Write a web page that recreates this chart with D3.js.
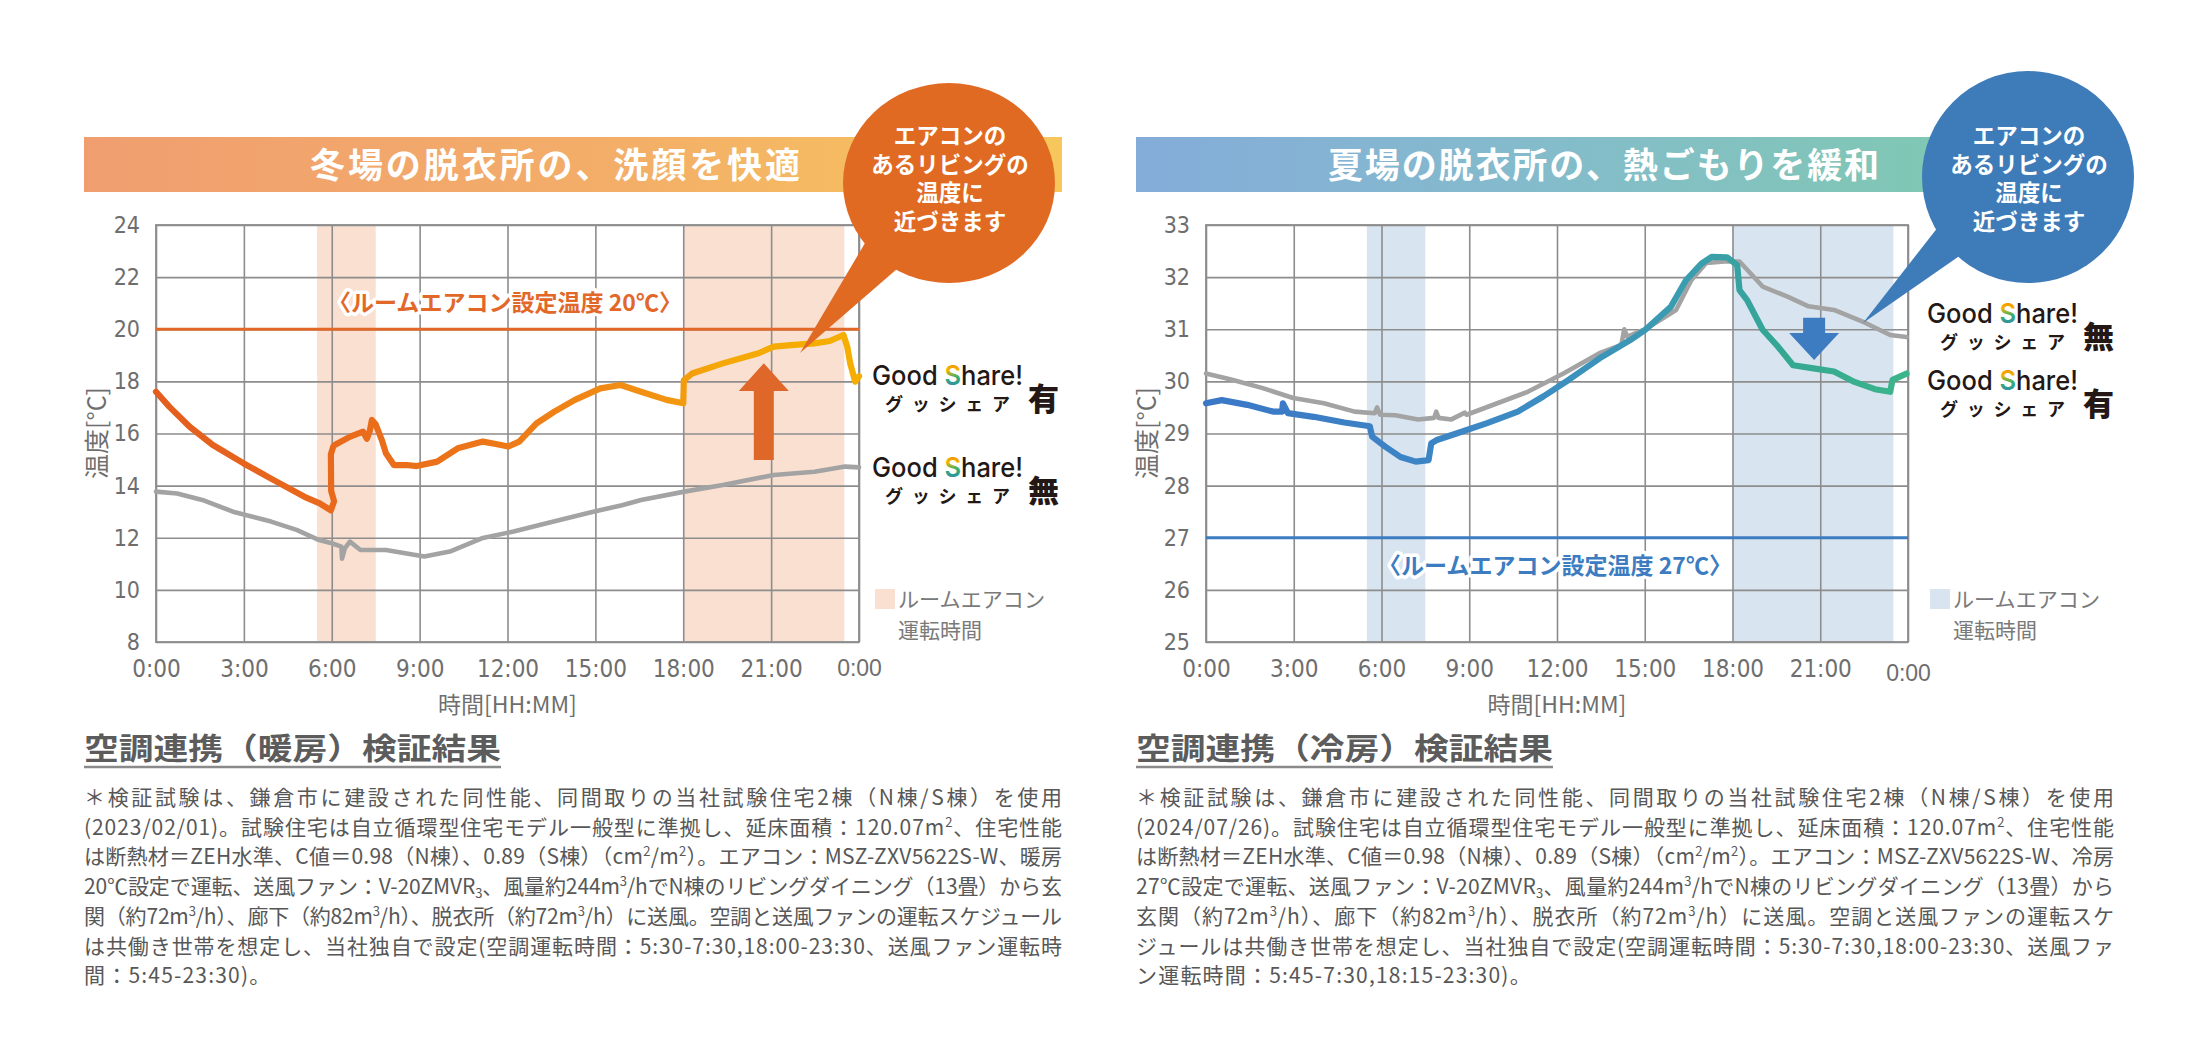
<!DOCTYPE html>
<html><head><meta charset="utf-8">
<script src="https://cdn.jsdelivr.net/npm/d3@7"></script>
<style>body{margin:0;background:#fff;} svg{display:block}</style>
</head><body>
<svg id="c" width="2204" height="1050"></svg>
<script>
// ---------------- DATA ----------------
const hourTicks = [0, 3, 6, 9, 12, 15, 18, 21, 24];
const hourTickLabels = ["0:00","3:00","6:00","9:00","12:00","15:00","18:00","21:00","0:00"];
const winterYTicks = [8, 10, 12, 14, 16, 18, 20, 22, 24];
const summerYTicks = [25, 26, 27, 28, 29, 30, 31, 32, 33];
const winterBands = [[5.5, 7.5], [18, 23.5]];
const summerBands = [[5.5, 7.5], [18, 23.5]];
const winterSetTemp = 20;
const summerSetTemp = 27;

// winter: Good Share! 有 (with)
const winterWithH = [0,0.45,1.15,1.94,2.98,4.02,5.07,5.59,5.97,6.08,5.98,5.97,6.05,6.1,6.63,7.07,7.2,7.3,7.37,7.5,7.71,7.85,8.12,8.55,8.9,9.6,10.3,11.16,11.6,12.03,12.4,12.99,13.6,14.3,15.17,15.86,16.56,17.43,18.0,18.02,18.3,19.35,20.57,21.09,21.78,22.48,23.0,23.47,23.6,23.7,23.87,24];
const winterWithT = [17.6,17.03,16.26,15.56,14.86,14.21,13.57,13.32,13.05,13.4,13.8,15.2,15.5,15.56,15.88,16.07,15.8,16.1,16.52,16.35,15.75,15.24,14.79,14.79,14.75,14.92,15.43,15.69,15.6,15.5,15.69,16.39,16.84,17.29,17.73,17.86,17.6,17.29,17.16,18.05,18.3,18.69,19.08,19.33,19.4,19.46,19.55,19.78,19.33,18.69,17.99,18.2];
// winter: Good Share! 無 (without)
const winterWithoutH = [0,0.72,1.58,2.63,3.93,4.8,5.57,6.0,6.33,6.35,6.45,6.62,6.98,7.85,9.16,10.03,11.12,12.21,13.3,14.82,15.91,16.56,18.04,19.35,21.09,22.48,23.53,24];
const winterWithoutT = [13.77,13.7,13.45,13.0,12.62,12.3,11.91,11.79,11.66,11.2,11.6,11.85,11.53,11.53,11.28,11.47,11.98,12.24,12.55,12.97,13.25,13.45,13.77,14.02,14.41,14.53,14.73,14.7];

// summer: with
const summerWithH = [0,0.54,1.41,2.29,2.6,2.63,2.8,3.68,4.73,5.6,5.68,6.12,6.65,7.17,7.61,7.7,7.87,8.56,9.61,10.66,11.53,12.4,13.45,14.5,15.02,15.89,16.41,16.94,17.29,17.81,18.16,18.24,18.5,19.03,19.55,20.07,20.77,21.47,22.17,22.87,23.39,23.47,23.95];
const summerWithT = [29.58,29.64,29.55,29.42,29.42,29.58,29.39,29.32,29.21,29.14,28.94,28.75,28.55,28.46,28.49,28.81,28.87,29.0,29.2,29.42,29.71,30.03,30.44,30.79,30.99,31.43,31.94,32.26,32.39,32.38,32.23,31.75,31.56,30.99,30.67,30.31,30.25,30.19,29.99,29.85,29.8,30.03,30.15];
// summer: without
const summerWithoutH = [0,0.89,1.94,2.98,4.03,5.08,5.77,5.85,5.95,6.47,7.25,7.8,7.87,7.95,8.39,8.85,8.91,9.96,11.0,12.22,13.45,14.2,14.3,14.4,15.02,16.07,16.59,17.1,17.72,18.24,19.03,19.9,20.6,21.47,22.51,23.39,23.95];
const summerWithoutT = [30.15,30.03,29.87,29.68,29.58,29.42,29.39,29.5,29.36,29.35,29.27,29.3,29.42,29.3,29.27,29.4,29.36,29.58,29.8,30.15,30.54,30.7,31.0,30.86,31.0,31.37,31.94,32.27,32.3,32.3,31.82,31.62,31.44,31.37,31.13,30.89,30.85];

const winterTitle = "冬場の脱衣所の、洗顔を快適";
const summerTitle = "夏場の脱衣所の、熱ごもりを緩和";
const bubbleLines = ["エアコンの", "あるリビングの", "温度に", "近づきます"];
const winterSetLabel = "〈ルームエアコン設定温度 20℃〉";
const summerSetLabel = "〈ルームエアコン設定温度 27℃〉";
const bandLegend = ["ルームエアコン", "運転時間"];

const winterHeading = "空調連携（暖房）検証結果";
const summerHeading = "空調連携（冷房）検証結果";
const winterNotes = [
  "＊検証試験は、鎌倉市に建設された同性能、同間取りの当社試験住宅2棟（N棟/S棟）を使用",
  "(2023/02/01)。試験住宅は自立循環型住宅モデル一般型に準拠し、延床面積：120.07m^2、住宅性能",
  "は断熱材＝ZEH水準、C値＝0.98（N棟）、0.89（S棟）（cm^2/m^2）。エアコン：MSZ-ZXV5622S-W、暖房",
  "20℃設定で運転、送風ファン：V-20ZMVR_3、風量約244m^3/hでN棟のリビングダイニング（13畳）から玄",
  "関（約72m^3/h）、廊下（約82m^3/h）、脱衣所（約72m^3/h）に送風。空調と送風ファンの運転スケジュール",
  "は共働き世帯を想定し、当社独自で設定(空調運転時間：5:30-7:30,18:00-23:30、送風ファン運転時",
  "間：5:45-23:30)。"
];
const summerNotes = [
  "＊検証試験は、鎌倉市に建設された同性能、同間取りの当社試験住宅2棟（N棟/S棟）を使用",
  "(2024/07/26)。試験住宅は自立循環型住宅モデル一般型に準拠し、延床面積：120.07m^2、住宅性能",
  "は断熱材＝ZEH水準、C値＝0.98（N棟）、0.89（S棟）（cm^2/m^2）。エアコン：MSZ-ZXV5622S-W、冷房",
  "27℃設定で運転、送風ファン：V-20ZMVR_3、風量約244m^3/hでN棟のリビングダイニング（13畳）から",
  "玄関（約72m^3/h）、廊下（約82m^3/h）、脱衣所（約72m^3/h）に送風。空調と送風ファンの運転スケ",
  "ジュールは共働き世帯を想定し、当社独自で設定(空調運転時間：5:30-7:30,18:00-23:30、送風ファ",
  "ン運転時間：5:45-7:30,18:15-23:30)。"
];

// ---------------- DRAWING ----------------
const svg = d3.select("#c");
const defs = svg.append("defs");
const JP = "'Noto Sans CJK JP','Noto Sans',sans-serif";
const NARROW = "'Liberation Sans Narrow','DejaVu Sans Condensed','Liberation Sans',sans-serif";
const REG = "'Liberation Sans','DejaVu Sans',sans-serif";
const GRID = "#8d8d8d";
const TXT = "#6e6e6e";

function grad(id, stops, x1, x2, vertical) {
  const g = defs.append("linearGradient").attr("id", id);
  if (vertical) g.attr("x1", 0).attr("y1", 0).attr("x2", 0).attr("y2", 1);
  else if (x1 !== undefined) g.attr("gradientUnits", "userSpaceOnUse").attr("x1", x1).attr("x2", x2).attr("y1", 0).attr("y2", 0);
  stops.forEach(([o, c]) => g.append("stop").attr("offset", o).attr("stop-color", c));
}
grad("gsS", [[0,"#ee7d00"],[0.35,"#f5b400"],[0.55,"#34b06e"],[1,"#2f78cf"]], undefined, undefined, true);

function logo(g, x, yb, mark) {
  const t = g.append("text").attr("x", x).attr("y", yb)
    .attr("font-family", "Inter,'Open Sans',sans-serif").attr("font-weight", 500)
    .attr("font-size", 27).attr("fill", "#231815")
    .attr("textLength", 151).attr("lengthAdjust", "spacingAndGlyphs");
  t.append("tspan").text("Good ");
  t.append("tspan").attr("fill", "url(#gsS)").attr("font-weight", 600).text("S");
  t.append("tspan").text("hare!");
  g.append("text").attr("x", x + 13).attr("y", yb + 26)
    .attr("font-family", JP).attr("font-weight", 700).attr("font-size", 18)
    .attr("fill", "#231815").attr("textLength", 125).attr("lengthAdjust", "spacing")
    .text("グッシェア");
  g.append("text").attr("x", x + 156).attr("y", yb + 25)
    .attr("font-family", JP).attr("font-weight", 900).attr("font-size", 31)
    .attr("fill", "#231815").text(mark);
}

function richLine(g, str, x, y, opts) {
  const t = g.append("text").attr("x", x).attr("y", y)
    .attr("font-family", JP).attr("font-size", 21).attr("fill", "#575757");
  if (opts.len) t.attr("textLength", opts.len).attr("lengthAdjust", "spacing");
  else t.attr("letter-spacing", opts.ls || 0);
  const parts = str.split(/([\^_]\d)/);
  let shift = 0;
  parts.forEach(p => {
    if (!p) return;
    if (p[0] === "^") {
      t.append("tspan").attr("dy", -8).attr("font-size", 13).text(p[1]);
      shift = 8;
    } else if (p[0] === "_") {
      t.append("tspan").attr("dy", 4).attr("font-size", 13).text(p[1]);
      shift = -4;
    } else {
      t.append("tspan").attr("dy", shift).text(p);
      shift = 0;
    }
  });
}

function panel(p) {
  const g = svg.append("g");
  const x = d3.scaleLinear().domain([0, 24]).range([p.x0, p.x1]);
  const y = d3.scaleLinear().domain(p.yDomain).range([642, 225]);
  const w = p.x1 - p.x0, h = 642 - 225;

  // banner
  grad(p.id + "Ban", p.bannerColors, p.bx0, p.bx1);
  g.append("rect").attr("x", p.bx0).attr("y", 137).attr("width", p.bx1 - p.bx0).attr("height", 55)
    .attr("fill", `url(#${p.id}Ban)`);
  g.append("text").attr("x", p.tx0).attr("y", 178).attr("fill", "#fff")
    .attr("font-family", JP).attr("font-weight", 700).attr("font-size", 35)
    .attr("textLength", p.tlen).attr("lengthAdjust", "spacing").text(p.title);

  // bands
  p.bands.forEach(([a, b]) => g.append("rect").attr("x", x(a)).attr("y", 225)
    .attr("width", x(b) - x(a)).attr("height", h).attr("fill", p.bandColor));

  // grid + axes
  const ay = g.append("g").attr("transform", `translate(${p.x0},0)`)
    .call(d3.axisLeft(y).tickValues(p.yTicks).tickSize(-w).tickPadding(16).tickFormat(d3.format("d")));
  const ax = g.append("g").attr("transform", "translate(0,642)")
    .call(d3.axisBottom(x).tickValues(hourTicks).tickSize(-h).tickPadding(18)
      .tickFormat((d, i) => hourTickLabels[i]));
  [ay, ax].forEach(a => {
    a.select(".domain").remove();
    a.selectAll("line").attr("stroke", GRID).attr("stroke-width", 1.6);
    a.selectAll("text").attr("fill", TXT).attr("font-family", NARROW).attr("font-size", 24);
  });
  ay.selectAll("text").attr("font-size", 23);
  const last = ax.selectAll(".tick").filter((d, i) => i === hourTicks.length - 1).select("text");
  last.attr("font-family", REG).attr("font-size", 23).attr("y", 18 + p.lastDy);
  g.append("rect").attr("x", p.x0).attr("y", 225).attr("width", w).attr("height", h)
    .attr("fill", "none").attr("stroke", GRID).attr("stroke-width", 1.8);

  // axis titles
  g.append("text").attr("transform", `translate(${p.x0 - 50},433) rotate(-90)`)
    .attr("text-anchor", "middle").attr("font-family", JP).attr("font-size", 25)
    .attr("fill", TXT).text("温度[°C]");
  g.append("text").attr("x", (p.x0 + p.x1) / 2).attr("y", 713).attr("text-anchor", "middle")
    .attr("font-family", JP).attr("font-size", 23).attr("fill", TXT).text("時間[HH:MM]");

  // set-temp line
  g.append("line").attr("x1", p.x0).attr("x2", p.x1).attr("y1", y(p.setTemp)).attr("y2", y(p.setTemp))
    .attr("stroke", p.setColor).attr("stroke-width", 3.2);

  // series
  const line = d3.line().x(d => x(d[0])).y(d => y(d[1]));
  const without = p.woH.map((hh, i) => [hh, p.woT[i]]);
  const withS = p.wH.map((hh, i) => [hh, p.wT[i]]);
  g.append("path").attr("d", line(without)).attr("fill", "none").attr("stroke", "#a3a3a3")
    .attr("stroke-width", 4.6).attr("stroke-linejoin", "round").attr("stroke-linecap", "round");
  grad(p.id + "Line", p.lineColors, p.x0, p.x1);
  g.append("path").attr("d", line(withS)).attr("fill", "none").attr("stroke", `url(#${p.id}Line)`)
    .attr("stroke-width", 6.2).attr("stroke-linejoin", "round").attr("stroke-linecap", "round");

  // set-temp label
  g.append("text").attr("x", p.labelX).attr("y", y(p.setTemp) + p.labelDy).attr("text-anchor", "middle")
    .attr("font-family", JP).attr("font-weight", 700).attr("font-size", 23).attr("fill", p.setColor)
    .attr("stroke", "#fff").attr("stroke-width", 7).attr("paint-order", "stroke").attr("stroke-linejoin", "round")
    .attr("textLength", 354).attr("lengthAdjust", "spacingAndGlyphs").text(p.setLabel);

  // arrow
  const axh = x(p.arrow.h), ta = y(p.arrow.tail), hb = y(p.arrow.base), tp = y(p.arrow.tip);
  const hw = 25, sw = p.arrow.sw;
  g.append("path").attr("fill", p.arrowColor).attr("d",
    `M${axh},${tp} L${axh + hw},${hb} L${axh + sw},${hb} L${axh + sw},${ta} L${axh - sw},${ta} L${axh - sw},${hb} L${axh - hw},${hb} Z`);

  // bubble
  const b = p.bubble;
  g.append("path").attr("fill", p.bubbleColor)
    .attr("d", `M${b.t1[0]},${b.t1[1]} L${b.tip[0]},${b.tip[1]} L${b.t2[0]},${b.t2[1]} Z`);
  g.append("ellipse").attr("cx", b.cx).attr("cy", b.cy).attr("rx", b.rx).attr("ry", b.ry).attr("fill", p.bubbleColor);
  bubbleLines.forEach((s, i) => g.append("text").attr("x", b.cx + 1).attr("y", 144 + i * 28.7)
    .attr("text-anchor", "middle").attr("font-family", JP).attr("font-weight", 700)
    .attr("font-size", 22.5).attr("fill", "#fff").text(s));

  // legends
  p.logos.forEach(([yb, mark]) => logo(g, p.lx, yb, mark));
  g.append("rect").attr("x", p.lx + 3).attr("y", 589).attr("width", 20).attr("height", 20).attr("fill", p.bandColor);
  bandLegend.forEach((s, i) => g.append("text").attr("x", p.lx + 26).attr("y", 607 + i * 31)
    .attr("font-family", JP).attr("font-size", 21).attr("fill", "#7a7a7a")
    .attr("textLength", i === 0 ? 147 : 84).attr("lengthAdjust", "spacingAndGlyphs").text(s));

  // notes
  g.append("text").attr("x", p.bx0).attr("y", 759).attr("font-family", JP).attr("font-weight", 700)
    .attr("font-size", 30).attr("fill", "#5c5c5c").attr("textLength", 417).attr("lengthAdjust", "spacingAndGlyphs")
    .text(p.heading);
  g.append("line").attr("x1", p.bx0).attr("x2", p.bx0 + 417).attr("y1", 767).attr("y2", 767)
    .attr("stroke", "#8a8a8a").attr("stroke-width", 2.5);
  p.notes.forEach((s, i) => richLine(g, s, p.bx0, 805 + i * 29.7,
    i < p.notes.length - 1 ? { len: p.noteLen } : { ls: 1.2 }));
}

panel({
  id: "w", x0: 156, x1: 859, yDomain: [8, 24], yTicks: winterYTicks, bands: winterBands,
  bx0: 84, bx1: 1062, tx0: 310, tlen: 490, title: winterTitle,
  bannerColors: [[0, "#f09e70"], [0.55, "#f3ae68"], [1, "#f7c75c"]],
  bandColor: "#f9e0d1", setTemp: winterSetTemp, setColor: "#e2682a", setLabel: winterSetLabel,
  labelX: 505, labelDy: -18,
  woH: winterWithoutH, woT: winterWithoutT, wH: winterWithH, wT: winterWithT,
  lineColors: [[0, "#e45d1f"], [0.45, "#ec7419"], [0.72, "#f29312"], [0.8, "#f5a808"], [1, "#f5ae00"]],
  arrow: { h: 20.75, tail: 14.98, base: 17.63, tip: 18.7, sw: 10 }, arrowColor: "#e0672a",
  bubbleColor: "#e16a23",
  bubble: { cx: 949, cy: 183, rx: 106, ry: 100, tip: [800, 353], t1: [868, 238], t2: [905, 262] },
  lx: 872, logos: [[385, "有"], [477, "無"]], lastDy: 0,
  heading: winterHeading, notes: winterNotes, noteLen: 978
});
panel({
  id: "s", x0: 1206, x1: 1908, yDomain: [25, 33], yTicks: summerYTicks, bands: summerBands,
  bx0: 1136, bx1: 1960, tx0: 1328, tlen: 551, title: summerTitle,
  bannerColors: [[0, "#84acd9"], [0.5, "#84bccb"], [1, "#80c8b2"]],
  bandColor: "#d8e5f1", setTemp: summerSetTemp, setColor: "#3d7cc0", setLabel: summerSetLabel,
  labelX: 1555, labelDy: 36,
  woH: summerWithoutH, woT: summerWithoutT, wH: summerWithH, wT: summerWithT,
  lineColors: [[0, "#3b77c7"], [0.45, "#3d8bc3"], [0.7, "#3a9eae"], [0.82, "#34a792"], [1, "#3db58a"]],
  arrow: { h: 20.79, tail: 31.22, base: 30.93, tip: 30.41, sw: 11 }, arrowColor: "#3d7cc0",
  bubbleColor: "#3e7bb9",
  bubble: { cx: 2028, cy: 177, rx: 106, ry: 106, tip: [1863, 323], t1: [1942, 222], t2: [1968, 250] },
  lx: 1927, logos: [[323, "無"], [390, "有"]], lastDy: 5,
  heading: summerHeading, notes: summerNotes, noteLen: 978
});
</script>
</body></html>
